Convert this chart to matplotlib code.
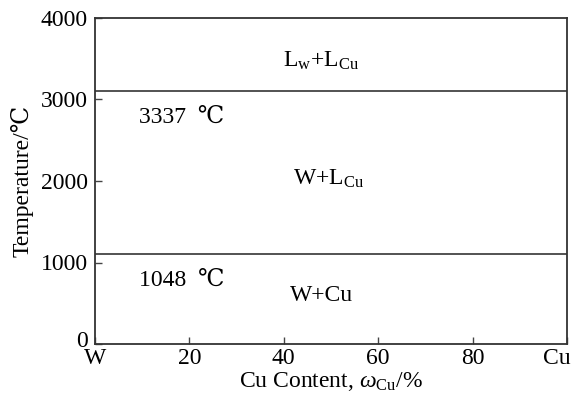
import matplotlib
matplotlib.use("Agg")
import matplotlib.pyplot as plt
from matplotlib.transforms import ScaledTranslation

plt.rcParams['font.family'] = ['Liberation Serif', 'DejaVu Serif']
plt.rcParams['mathtext.fontset'] = 'custom'
plt.rcParams['mathtext.rm'] = 'Liberation Serif'
plt.rcParams['mathtext.it'] = 'Liberation Serif:italic'

x_ticks = [0, 20, 40, 60, 80, 100]
x_ticklabels = ['W', '20', '40', '60', '80', 'Cu']
y_ticks = [0, 1000, 2000, 3000, 4000]
line_temps = [3110, 1100]
region_labels = [r'L$_{\rm w}$+L$_{\rm Cu}$', r'W+L$_{\rm Cu}$', 'W+Cu']
region_x = [47.8, 49.5, 48.0]
region_y = [3480, 2030, 590]
temp_labels = ['3337  ℃', '1048  ℃']
temp_x = [9.3, 9.3]
temp_y = [2785, 775]

FS = 17

fig = plt.figure(figsize=(5.75, 3.94), dpi=100)
ax = fig.add_axes([95/575, 1-344/394, (567-95)/575, (344-18)/394])
ax.set_xlim(0, 100)
ax.set_ylim(0, 4000)
for t in line_temps:
    ax.axhline(t, color='#444444', lw=1.3)
for s, xx, yy in zip(region_labels, region_x, region_y):
    ax.text(xx, yy, s, ha='center', va='center', fontsize=FS)
for s, xx, yy in zip(temp_labels, temp_x, temp_y):
    ax.text(xx, yy, s, ha='left', va='center', fontsize=FS)
ax.set_xticks(x_ticks)
ax.set_xticklabels(x_ticklabels)
ax.set_yticks(y_ticks)
ax.tick_params(direction='in', length=5, labelsize=FS, width=1, color='#444444')
ax.tick_params(axis='x', pad=3)
ax.tick_params(axis='y', pad=5)
fig.canvas.draw()
lab = ax.get_xticklabels()[-1]
lab.set_transform(lab.get_transform() + ScaledTranslation(-10/100, 0, fig.dpi_scale_trans))
ylab0 = ax.get_yticklabels()[0]
ylab0.set_transform(ylab0.get_transform() + ScaledTranslation(0, 5/100, fig.dpi_scale_trans))
for sp in ax.spines.values():
    sp.set_color('#333333')
    sp.set_linewidth(1.3)
ax.set_xlabel(r'Cu Content, $\omega_{\rm Cu}$/%', fontsize=FS, labelpad=0.5)
ax.set_ylabel('Temperature/℃', fontsize=FS, labelpad=5)
fig.savefig('out.png', dpi=100)
